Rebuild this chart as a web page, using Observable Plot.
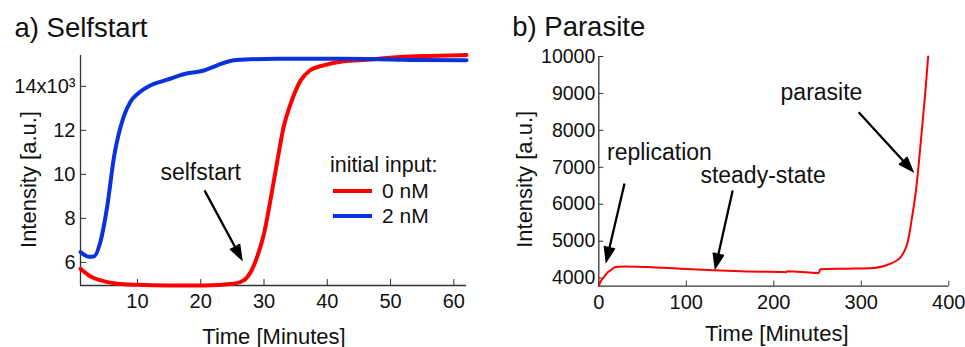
<!DOCTYPE html>
<html>
<head>
<meta charset="utf-8">
<script src="https://cdn.jsdelivr.net/npm/d3@7"></script>
<script src="https://cdn.jsdelivr.net/npm/@observablehq/plot@0.6"></script>
<style>
  html, body { margin: 0; padding: 0; background: #fff; }
  #wrap { position: relative; width: 965px; height: 347px; overflow: hidden; font-family: "Liberation Sans", Arial, sans-serif; }
  .panel { position: absolute; top: 0; }
  #legend { position: absolute; left: 0; top: 0; pointer-events: none; }
</style>
</head>
<body>
<div id="wrap">
  <div id="a" class="panel" style="left:0px"></div>
  <div id="b" class="panel" style="left:480px"></div>
</div>
<script>
// ---------- Panel a) Selfstart ----------
const selfXTicks = [10, 20, 30, 40, 50, 60];
const selfYTicks = [6000, 8000, 10000, 12000, 14000];
const selfXDomain = [1, 62];
const selfYDomain = [4950, 15400];

// initial input 0 nM (red)
const time0 = [1, 2.6, 4.2, 6.8, 10, 14.7, 20.5, 25.2, 26.8, 27.9, 28.9, 30, 31, 32.1, 33.1, 34.2, 35.8, 37.3, 39.4, 42.6, 46.3, 51.5, 56, 62];
const int0  = [5710, 5360, 5180, 5030, 4980, 4955, 4955, 5030, 5180, 5560, 6240, 7300, 8800, 10600, 12150, 13200, 14270, 14730, 14950, 15140, 15210, 15330, 15380, 15420];

// initial input 2 nM (blue)
const time2 = [1, 2.3, 3.1, 4.2, 5.2, 6.3, 7.8, 8.9, 10, 12.1, 14.7, 17.3, 20.5, 22.6, 25.2, 27.9, 32, 40, 46, 50, 55, 62];
const int2  = [6470, 6260, 6270, 7000, 8500, 10800, 12600, 13300, 13650, 14050, 14300, 14550, 14720, 14950, 15180, 15230, 15250, 15250, 15240, 15220, 15190, 15180];

const seriesNames = ["0 nM", "2 nM"];
const seriesColors = ["#ff0000", "#0a32dc"];

const selfArrows = [{x1: 20.6, y1: 9270, x2: 26.4, y2: 6180}];
const selfNotes = [{x: 20, y: 9730, label: "selfstart"}];

// ---------- Panel b) Parasite ----------
const paraXTicks = [0, 100, 200, 300, 400];
const paraYTicks = [4000, 5000, 6000, 7000, 8000, 9000, 10000];
const paraXDomain = [0, 400];
const paraYDomain = [3780, 10000];

const paraTime = [0, 2, 5.9, 10, 13.5, 19, 28.9, 55, 93, 131, 170, 208, 214, 215.5, 240, 251.5, 253, 284, 314.5, 325, 333.5, 340, 345, 349, 352.5, 355, 358, 360, 362, 364, 366, 369.5, 373.3, 376.4];
const paraInt  = [3790, 3900, 4030, 4150, 4210, 4300, 4316, 4300, 4255, 4210, 4180, 4163, 4160, 4185, 4150, 4135, 4240, 4255, 4275, 4320, 4390, 4470, 4570, 4720, 4930, 5200, 5650, 5950, 6280, 6700, 7180, 8080, 9070, 10000];

const paraArrows = [
  {x1: 29.4, y1: 6563, x2: 8.8, y2: 4479},
  {x1: 153, y1: 6373, x2: 133.4, y2: 4298},
  {x1: 297, y1: 8493, x2: 358, y2: 6915}
];
const paraNotes = [
  {x: 69.3, y: 7207, label: "replication"},
  {x: 187.7, y: 6563, label: "steady-state"},
  {x: 254.5, y: 8809, label: "parasite"}
];

// ---------- build ----------
const font = "'Liberation Sans', Arial, Helvetica, sans-serif";
const axisColor = "#333";
const textColor = "#111";

const red = time0.map((t, i) => ({t, v: int0[i], s: seriesNames[0]}));
const blue = time2.map((t, i) => ({t, v: int2[i], s: seriesNames[1]}));
const para = paraTime.map((t, i) => ({t, v: paraInt[i]}));

const fmtSelf = d => d === 14000 ? "14x10\u00B3" : String(d / 1000);

const arrowOpts = {x1: "x1", y1: "y1", x2: "x2", y2: "y2", fill: "#000", stroke: "#000", strokeWidth: 2.3, headAngle: 40, headLength: 9.5, strokeLinejoin: "miter", strokeMiterlimit: 10, strokeLinecap: "butt"};

const plotA = Plot.plot({
  width: 480, height: 347,
  marginLeft: 80, marginRight: 14, marginTop: 55, marginBottom: 62,
  style: {fontFamily: font, fontSize: "20px", color: textColor, background: "transparent"},
  x: {domain: selfXDomain},
  y: {domain: selfYDomain},
  marks: [
    Plot.axisX(selfXTicks, {tickSize: -6, tickPadding: 14, label: null, stroke: axisColor, fontSize: 20}),
    Plot.axisY(selfYTicks, {tickSize: -6, tickPadding: 11, label: null, stroke: axisColor, fontSize: 20, tickFormat: fmtSelf}),
    Plot.ruleX([selfXDomain[0]], {stroke: axisColor, strokeWidth: 1.3}),
    Plot.ruleY([selfYDomain[0]], {stroke: axisColor, strokeWidth: 1.3}),
    Plot.line(red, {x: "t", y: "v", stroke: seriesColors[0], strokeWidth: 4, curve: "monotone-x"}),
    Plot.line(blue, {x: "t", y: "v", stroke: seriesColors[1], strokeWidth: 4, curve: "monotone-x"}),
    Plot.arrow(selfArrows, arrowOpts),
    Plot.text(selfNotes, {x: "x", y: "y", text: "label", fontSize: 23, lineAnchor: "bottom", fill: textColor}),
    Plot.text(["Time [Minutes]"], {text: d => d, frameAnchor: "bottom", textAnchor: "middle", dx: 0.5, dy: 58, lineAnchor: "bottom", fontSize: 22, fill: textColor}),
    Plot.text(["Intensity [a.u.]"], {text: d => d, frameAnchor: "left", textAnchor: "middle", dx: -52, dy: 9, rotate: -90, fontSize: 22, fill: textColor}),
    Plot.text(["a) Selfstart"], {text: d => d, frameAnchor: "top-left", dx: -66, dy: -19, lineAnchor: "bottom", textAnchor: "start", fontSize: 27.5, fill: textColor})
  ]
});
document.getElementById("a").appendChild(plotA);

// legend (real text in a plain SVG overlay)
const ns = "http://www.w3.org/2000/svg";
const leg = document.createElementNS(ns, "svg");
leg.setAttribute("id", "legend");
leg.setAttribute("width", 480);
leg.setAttribute("height", 347);
function addText(x, y, s, size) {
  const t = document.createElementNS(ns, "text");
  t.setAttribute("x", x); t.setAttribute("y", y);
  t.setAttribute("font-family", font); t.setAttribute("font-size", size);
  t.setAttribute("fill", textColor);
  t.textContent = s; leg.appendChild(t);
}
function addLine(x1, x2, y, c) {
  const l = document.createElementNS(ns, "line");
  l.setAttribute("x1", x1); l.setAttribute("x2", x2);
  l.setAttribute("y1", y); l.setAttribute("y2", y);
  l.setAttribute("stroke", c); l.setAttribute("stroke-width", 4);
  leg.appendChild(l);
}
addText(330, 172, "initial input:", 21.5);
seriesNames.forEach((name, i) => {
  const y = 191 + i * 25;
  addLine(333, 372, y, seriesColors[i]);
  addText(382, y + 7, name, 21);
});
document.getElementById("a").appendChild(leg);

const plotB = Plot.plot({
  width: 485, height: 347,
  marginLeft: 118.3, marginRight: 16.7, marginTop: 56, marginBottom: 61.3,
  style: {fontFamily: font, fontSize: "20px", color: textColor, background: "transparent"},
  x: {domain: paraXDomain},
  y: {domain: paraYDomain},
  marks: [
    Plot.axisX(paraXTicks, {tickSize: -5, tickPadding: 14, label: null, stroke: axisColor, fontSize: 20}),
    Plot.axisY(paraYTicks, {tickSize: -5, tickPadding: 8.5, label: null, stroke: axisColor, fontSize: 19.5, tickFormat: d => String(d)}),
    Plot.ruleX([paraXDomain[0]], {stroke: axisColor, strokeWidth: 1.3}),
    Plot.ruleY([paraYDomain[0]], {stroke: axisColor, strokeWidth: 1.3}),
    Plot.line(para, {x: "t", y: "v", stroke: "#ff0000", strokeWidth: 2, curve: "monotone-x"}),
    Plot.arrow(paraArrows, arrowOpts),
    Plot.text(paraNotes, {x: "x", y: "y", text: "label", fontSize: 23, lineAnchor: "bottom", fill: textColor}),
    Plot.text(["Time [Minutes]"], {text: d => d, frameAnchor: "bottom", textAnchor: "middle", dx: 3, dy: 54.3, lineAnchor: "bottom", fontSize: 22, fill: textColor}),
    Plot.text(["Intensity [a.u.]"], {text: d => d, frameAnchor: "left", textAnchor: "middle", dx: -73.6, dy: 8, rotate: -90, fontSize: 22, fill: textColor}),
    Plot.text(["b) Parasite"], {text: d => d, frameAnchor: "top-left", dx: -86.6, dy: -21, lineAnchor: "bottom", textAnchor: "start", fontSize: 27.5, fill: textColor})
  ]
});
document.getElementById("b").appendChild(plotB);
</script>
</body>
</html>
